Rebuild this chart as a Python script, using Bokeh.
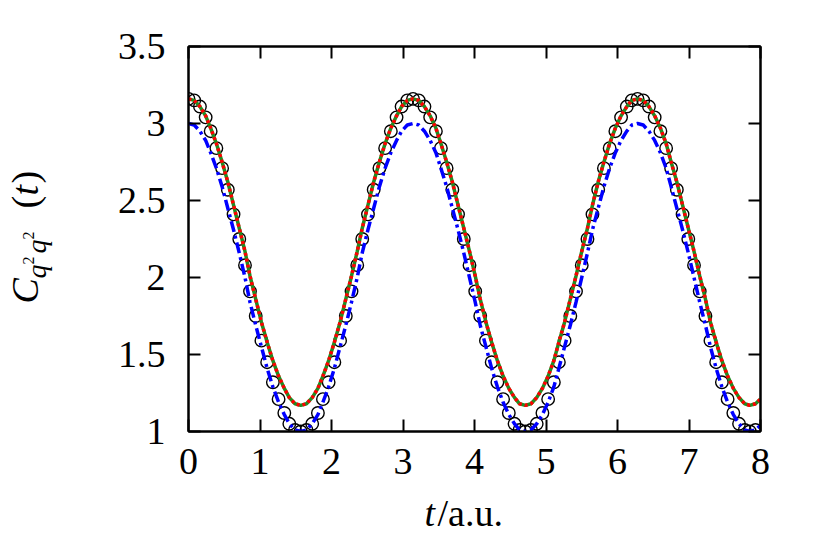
import math
from bokeh.plotting import figure
from bokeh.layouts import row, column
from bokeh.models import Range1d, FixedTicker, LinearAxis, CustomJSTickFormatter, ColumnDataSource
from bokeh.core.properties import value
from bokeh.embed import file_html
from bokeh.resources import INLINE

# ---------------- data ----------------
t_vals = [0.00, 0.08, 0.16, 0.24, 0.31, 0.39, 0.47, 0.55, 0.63, 0.71,
          0.79, 0.86, 0.94, 1.02, 1.10, 1.18, 1.26, 1.34, 1.41, 1.49,
          1.57, 1.65, 1.73, 1.81, 1.88, 1.96, 2.04, 2.12, 2.20, 2.28,
          2.36, 2.43, 2.51, 2.59, 2.67, 2.75, 2.83, 2.91, 2.98, 3.06,
          3.14, 3.22, 3.30, 3.38, 3.46, 3.53, 3.61, 3.69, 3.77, 3.85,
          3.93, 4.01, 4.08, 4.16, 4.24, 4.32, 4.40, 4.48, 4.56, 4.63,
          4.71, 4.79, 4.87, 4.95, 5.03, 5.11, 5.18, 5.26, 5.34, 5.42,
          5.50, 5.58, 5.65, 5.73, 5.81, 5.89, 5.97, 6.05, 6.13, 6.20,
          6.28, 6.36, 6.44, 6.52, 6.60, 6.68, 6.75, 6.83, 6.91, 6.99,
          7.07, 7.15, 7.23, 7.30, 7.38, 7.46, 7.54, 7.62, 7.70, 7.78,
          7.85, 7.93]

# black circles
circ_vals = [3.16, 3.15, 3.11, 3.04, 2.95, 2.84, 2.71, 2.57, 2.41, 2.25,
             2.08, 1.91, 1.75, 1.59, 1.45, 1.32, 1.21, 1.12, 1.05, 1.01,
             1.00, 1.01, 1.05, 1.12, 1.21, 1.32, 1.45, 1.59, 1.75, 1.91,
             2.08, 2.25, 2.41, 2.57, 2.71, 2.84, 2.95, 3.04, 3.11, 3.15,
             3.16, 3.15, 3.11, 3.04, 2.95, 2.84, 2.71, 2.57, 2.41, 2.25,
             2.08, 1.91, 1.75, 1.59, 1.45, 1.32, 1.21, 1.12, 1.05, 1.01,
             1.00, 1.01, 1.05, 1.12, 1.21, 1.32, 1.45, 1.59, 1.75, 1.91,
             2.08, 2.25, 2.41, 2.57, 2.71, 2.84, 2.95, 3.04, 3.11, 3.15,
             3.16, 3.15, 3.11, 3.04, 2.95, 2.84, 2.71, 2.57, 2.41, 2.25,
             2.08, 1.91, 1.75, 1.59, 1.45, 1.32, 1.21, 1.12, 1.05, 1.01,
             1.00, 1.01]

t_line = t_vals + [8.00]

# green solid / red dotted curve
green_vals = [3.16, 3.15, 3.11, 3.05, 2.97, 2.87, 2.75, 2.62, 2.47, 2.32,
              2.17, 2.01, 1.86, 1.71, 1.58, 1.46, 1.36, 1.28, 1.22, 1.18,
              1.17, 1.18, 1.22, 1.28, 1.36, 1.46, 1.58, 1.71, 1.86, 2.01,
              2.17, 2.32, 2.47, 2.62, 2.75, 2.87, 2.97, 3.05, 3.11, 3.15,
              3.16, 3.15, 3.11, 3.05, 2.97, 2.87, 2.75, 2.62, 2.47, 2.32,
              2.17, 2.01, 1.86, 1.71, 1.58, 1.46, 1.36, 1.28, 1.22, 1.18,
              1.17, 1.18, 1.22, 1.28, 1.36, 1.46, 1.58, 1.71, 1.86, 2.01,
              2.17, 2.32, 2.47, 2.62, 2.75, 2.87, 2.97, 3.05, 3.11, 3.15,
              3.16, 3.15, 3.11, 3.05, 2.97, 2.87, 2.75, 2.62, 2.47, 2.32,
              2.17, 2.01, 1.86, 1.71, 1.58, 1.46, 1.36, 1.28, 1.22, 1.18,
              1.17, 1.18, 1.21]

# blue dash-dot curve
blue_vals = [3.00, 2.99, 2.95, 2.89, 2.81, 2.71, 2.59, 2.45, 2.31, 2.16,
             2.00, 1.84, 1.69, 1.55, 1.41, 1.29, 1.19, 1.11, 1.05, 1.01,
             1.00, 1.01, 1.05, 1.11, 1.19, 1.29, 1.41, 1.55, 1.69, 1.84,
             2.00, 2.16, 2.31, 2.45, 2.59, 2.71, 2.81, 2.89, 2.95, 2.99,
             3.00, 2.99, 2.95, 2.89, 2.81, 2.71, 2.59, 2.45, 2.31, 2.16,
             2.00, 1.84, 1.69, 1.55, 1.41, 1.29, 1.19, 1.11, 1.05, 1.01,
             1.00, 1.01, 1.05, 1.11, 1.19, 1.29, 1.41, 1.55, 1.69, 1.84,
             2.00, 2.16, 2.31, 2.45, 2.59, 2.71, 2.81, 2.89, 2.95, 2.99,
             3.00, 2.99, 2.95, 2.89, 2.81, 2.71, 2.59, 2.45, 2.31, 2.16,
             2.00, 1.84, 1.69, 1.55, 1.41, 1.29, 1.19, 1.11, 1.05, 1.01,
             1.00, 1.01, 1.04]

x_ticks = [0, 1, 2, 3, 4, 5, 6, 7, 8]
x_tick_labels = ["0", "1", "2", "3", "4", "5", "6", "7", "8"]
y_ticks = [1, 1.5, 2, 2.5, 3, 3.5]
y_tick_labels = ["1", "1.5", "2", "2.5", "3", "3.5"]

FONT = "Liberation Serif"

# ---------------- main figure ----------------
p = figure(output_backend="svg", toolbar_location=None,
           frame_width=572, frame_height=385,
           min_border_left=118, min_border_right=54,
           min_border_top=46, min_border_bottom=60,
           x_range=Range1d(0, 8), y_range=Range1d(1, 3.5),
           align="start")
p.grid.visible = False
p.outline_line_color = "black"
p.outline_line_width = 2

src_c = ColumnDataSource(dict(t=t_vals, c=circ_vals))
src_l = ColumnDataSource(dict(t=t_line, g=green_vals, b=blue_vals))

p.scatter("t", "c", source=src_c, marker="circle", size=12.5,
          fill_color=None, line_color="black", line_width=1.4)
p.line("t", "b", source=src_l, line_color="#0000ff", line_width=3.5,
       line_dash="11 4 3 4")
p.line("t", "g", source=src_l, line_color="#228b22", line_width=3.5)
p.line("t", "g", source=src_l, line_color="#ff0000", line_width=3.5,
       line_dash="3 3")


def style_axis(ax, ticks, labels, show_labels, standoff):
    ax.ticker = FixedTicker(ticks=ticks)
    ax.axis_line_color = "black"
    ax.axis_line_width = 2
    ax.major_tick_line_color = "black"
    ax.major_tick_line_width = 2
    ax.major_tick_in = 12
    ax.major_tick_out = 0
    ax.minor_tick_in = 0
    ax.minor_tick_out = 0
    ax.minor_tick_line_color = None
    if show_labels:
        ax.major_label_overrides = {t: l for t, l in zip(ticks, labels)}
        ax.major_label_text_font = FONT
        ax.major_label_text_font_size = "38px"
        ax.major_label_text_color = "black"
        ax.major_label_standoff = standoff
    else:
        ax.formatter = CustomJSTickFormatter(code="return ''")
        ax.major_label_standoff = 0


style_axis(p.xaxis[0], x_ticks, x_tick_labels, True, 17)
style_axis(p.yaxis[0], y_ticks, y_tick_labels, True, 23)

top = LinearAxis()
right = LinearAxis()
style_axis(top, x_ticks, x_tick_labels, False, 0)
style_axis(right, y_ticks, y_tick_labels, False, 0)
p.add_layout(top, "above")
p.add_layout(right, "right")


# ---------------- title panels (page pixel coordinates, y downward) ----------------
def blank(width, height, xr, yr):
    f = figure(output_backend="svg", toolbar_location=None,
               width=width, height=height,
               min_border_left=0, min_border_right=0,
               min_border_top=0, min_border_bottom=0,
               x_axis_location=None, y_axis_location=None,
               x_range=Range1d(*xr), y_range=Range1d(*yr),
               align="start")
    f.grid.visible = False
    f.outline_line_color = None
    return f


def txt(f, x, y, s, size_px, italic=False, angle=0.0):
    f.text(x=[x], y=[y], text=[s], text_font=value(FONT),
           text_font_size=value(f"{size_px}px"),
           text_font_style="italic" if italic else "normal",
           text_color="black", angle=angle,
           text_align="left", text_baseline="middle")


# y title: C_{q^2 q^2}(t)  -- rotated; x given = baseline minus 1/3 em
yfig = blank(70, 546, (0, 70), (546, 0))
A = math.pi / 2
txt(yfig, 37 - 12.5, 303, "C", 38, italic=True, angle=A)
txt(yfig, 45 - 9.2, 278, "q", 28, italic=True, angle=A)
txt(yfig, 33 - 5.3, 264, "2", 16, angle=A)
txt(yfig, 45 - 9.2, 253, "q", 28, italic=True, angle=A)
txt(yfig, 33 - 5.3, 239, "2", 16, angle=A)
txt(yfig, 37 - 12.5, 208, "(", 38, angle=A)
txt(yfig, 37 - 12.5, 195, "t", 38, italic=True, angle=A)
txt(yfig, 37 - 12.5, 183, ")", 38, angle=A)

# x title: t/a.u.  (in the column this panel's frame lines up with the plot frame: x 188..760)
xfig = blank(744, 55, (188, 760), (546, 491))
txt(xfig, 424, 525 - 12.5, "t", 38, italic=True)
txt(xfig, 437, 525 - 12.5, "/a.u.", 38)

layout = row(yfig, column(p, xfig, align="start"), align="start")

open("out.html", "w").write(file_html(layout, INLINE))
